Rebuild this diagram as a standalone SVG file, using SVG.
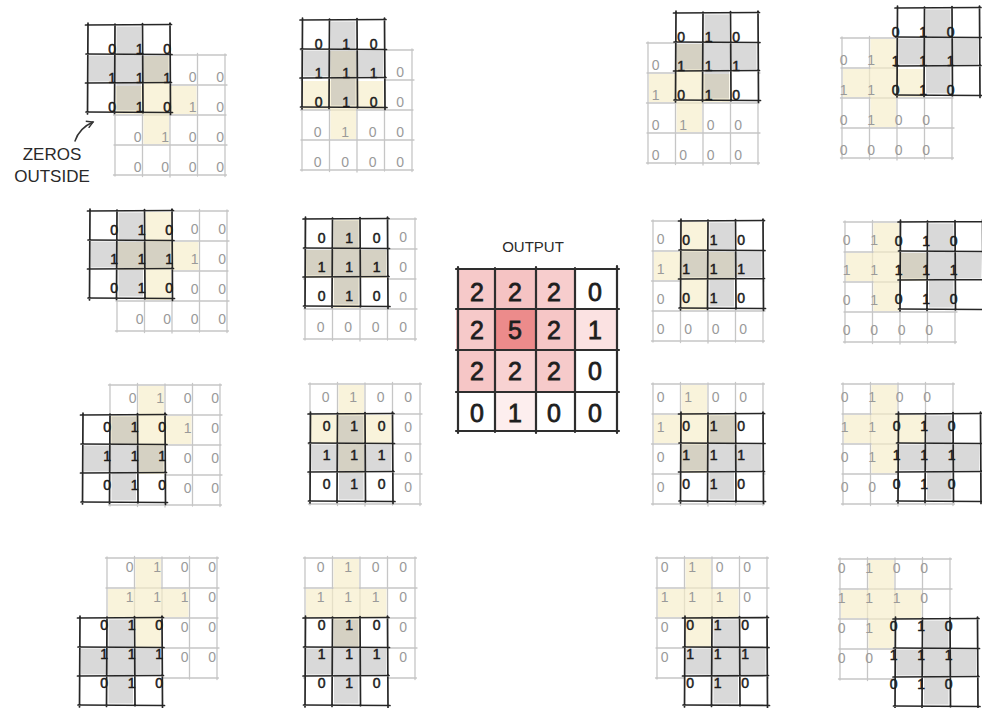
<svg xmlns="http://www.w3.org/2000/svg" width="982" height="708" viewBox="0 0 982 708" font-family="'Liberation Sans', Arial, sans-serif" text-anchor="middle">
<style>
.gl{stroke:#c6c6c6;stroke-width:1.3;fill:none;stroke-linecap:round}
.kl{stroke:#262626;stroke-width:1.7;fill:none;stroke-linecap:round}
.ol{stroke:#2e2e2e;stroke-width:2.2;fill:none;stroke-linecap:round}
.y{fill:#f6ecc8;fill-opacity:.65}
.k{fill:#9c9c9c;fill-opacity:.38}
text{font-family:'Liberation Sans',Arial,sans-serif;text-anchor:middle}
.kd{font-size:14px;fill:#1c1c1c;stroke:#1c1c1c;stroke-width:.5}
.gd{font-size:14px;fill:#9a9a9a}
.od{font-size:25px;fill:#1e1e1e;stroke:#1e1e1e;stroke-width:.8}
.lb{font-size:17px;fill:#2a2a2a}
.cn{stroke:#333;stroke-width:1.5;fill:none;stroke-linecap:round}
</style>
<defs>
<marker id="ah" viewBox="0 0 10 10" refX="8" refY="5" markerWidth="6" markerHeight="6" orient="auto"><path d="M1,1 L8,5 L1,9" fill="none" stroke="#333" stroke-width="1.6"/></marker>
<g id="grid" class="gl"><path d="M0,-1V121M27.5,-1.5V121.5M55,-1V122M82.5,-1.5V121M110,-1V121.5M-1.5,0H111.5M-1,30H112M-1.5,60H111M-1,90H112M-1.5,120H111.5"/></g>
<rect id="kbg" x="0" y="0" width="82.5" height="87" fill="#fff"/>
<path id="yel" class="y" d="M28.5,1H54V31H81.5V59H54V89H28.5V59H1V31H28.5Z"/>
<path id="kcross" class="k" d="M29,1.5H53.5V30.5H81V56.5H53.5V85.5H29V56.5H1.5V30.5H29Z"/>
<g id="klines" class="kl"><path d="M0.5,-2L0,89M27.5,-1L27,88.5M55,-1.5L55.5,88M82.5,-2L83,89.5M-2,0L84,-0.5M-1.5,29L84.5,29.5M-2,58L84,57.5M-1.5,87L85,87.5"/></g>
<g id="kdig" class="kd">
<text x="13.75" y="19.5">0</text><text x="41.25" y="19.5">1</text><text x="68.75" y="19.5">0</text>
<text x="13.75" y="48.5">1</text><text x="41.25" y="48.5">1</text><text x="68.75" y="48.5">1</text>
<text x="13.75" y="77.5">0</text><text x="41.25" y="77.5">1</text><text x="68.75" y="77.5">0</text>
</g>
<g id="r0"><text x="13.75" y="20">0</text><text x="41.25" y="20">1</text><text x="68.75" y="20">0</text><text x="96.25" y="20">0</text></g>
<g id="r1"><text x="13.75" y="50">1</text><text x="41.25" y="50">1</text><text x="68.75" y="50">1</text><text x="96.25" y="50">0</text></g>
<g id="r2"><text x="13.75" y="80">0</text><text x="41.25" y="80">1</text><text x="68.75" y="80">0</text><text x="96.25" y="80">0</text></g>
<g id="r3"><text x="13.75" y="110">0</text><text x="41.25" y="110">0</text><text x="68.75" y="110">0</text><text x="96.25" y="110">0</text></g>
</defs>
<rect width="982" height="708" fill="#fff"/>

<g id="panel-0-0" transform="translate(115,55)">
<use href="#grid"/><use href="#kbg" x="-27.5" y="-30"/><use href="#yel"/><use href="#kcross" x="-27.5" y="-30"/><use href="#klines" x="-27.5" y="-30"/><use href="#kdig" x="-16.5" y="-21"/>
<g class="gd" transform="translate(9,7)"><use href="#r2"/><use href="#r3"/><text x="68.75" y="20">0</text><text x="96.25" y="20">0</text><text x="68.75" y="50">1</text><text x="96.25" y="50">0</text></g>
</g>
<g id="panel-0-1" transform="translate(302,50)">
<use href="#grid"/><use href="#kbg" x="0" y="-30"/><use href="#yel"/><use href="#kcross" x="0" y="-30"/><use href="#klines" x="0" y="-30"/><use href="#kdig" x="3" y="-21"/>
<g class="gd" transform="translate(2,7)"><use href="#r2"/><use href="#r3"/><text x="96.25" y="20">0</text><text x="96.25" y="50">0</text></g>
</g>
<g id="panel-0-2" transform="translate(648,43)">
<use href="#grid"/><use href="#kbg" x="27.5" y="-30"/><use href="#yel"/><use href="#kcross" x="27.5" y="-30"/><use href="#klines" x="27.5" y="-30"/><use href="#kdig" x="19.5" y="-21"/>
<g class="gd" transform="translate(-6,7)"><use href="#r2"/><use href="#r3"/><text x="13.75" y="20">0</text><text x="13.75" y="50">1</text></g>
</g>
<g id="panel-0-3" transform="translate(842,38)">
<use href="#grid"/><use href="#kbg" x="55" y="-30"/><use href="#yel"/><use href="#kcross" x="55" y="-30"/><use href="#klines" x="55" y="-30"/><use href="#kdig" x="40" y="-21"/>
<g class="gd" transform="translate(-12,7)"><use href="#r2"/><use href="#r3"/><text x="13.75" y="20">0</text><text x="41.25" y="20">1</text><text x="13.75" y="50">1</text><text x="41.25" y="50">1</text></g>
</g>

<g id="panel-1-0" transform="translate(117,211)">
<use href="#grid"/><use href="#kbg" x="-27.5" y="0"/><use href="#yel"/><use href="#kcross" x="-27.5" y="0"/><use href="#klines" x="-27.5" y="0"/><use href="#kdig" x="-16.5" y="4"/>
<g class="gd" transform="translate(9,3)"><use href="#r3"/><text x="68.75" y="20">0</text><text x="96.25" y="20">0</text><text x="68.75" y="50">1</text><text x="96.25" y="50">0</text><text x="68.75" y="80">0</text><text x="96.25" y="80">0</text></g>
</g>
<g id="panel-1-1" transform="translate(305,219)">
<use href="#grid"/><use href="#kbg" x="0" y="0"/><use href="#yel"/><use href="#kcross" x="0" y="0"/><use href="#klines" x="0" y="0"/><use href="#kdig" x="3" y="4"/>
<g class="gd" transform="translate(2,3)"><use href="#r3"/><text x="96.25" y="20">0</text><text x="96.25" y="50">0</text><text x="96.25" y="80">0</text></g>
</g>
<g id="panel-1-2" transform="translate(653,221)">
<use href="#grid"/><use href="#kbg" x="27.5" y="0"/><use href="#yel"/><use href="#kcross" x="27.5" y="0"/><use href="#klines" x="27.5" y="0"/><use href="#kdig" x="19.5" y="4"/>
<g class="gd" transform="translate(-6,3)"><use href="#r3"/><text x="13.75" y="20">0</text><text x="13.75" y="50">1</text><text x="13.75" y="80">0</text></g>
</g>
<g id="panel-1-3" transform="translate(845,222)">
<use href="#grid"/><use href="#kbg" x="55" y="0"/><use href="#yel"/><use href="#kcross" x="55" y="0"/><use href="#klines" x="55" y="0"/><use href="#kdig" x="40" y="4"/>
<g class="gd" transform="translate(-12,3)"><use href="#r3"/><text x="13.75" y="20">0</text><text x="41.25" y="20">1</text><text x="13.75" y="50">1</text><text x="41.25" y="50">1</text><text x="13.75" y="80">0</text><text x="41.25" y="80">1</text></g>
</g>

<g id="panel-2-0" transform="translate(110,385)">
<use href="#grid"/><use href="#kbg" x="-27.5" y="30"/><use href="#yel"/><use href="#kcross" x="-27.5" y="30"/><use href="#klines" x="-27.5" y="30"/><use href="#kdig" x="-16.5" y="27"/>
<g class="gd" transform="translate(9,-2)"><use href="#r0"/><text x="68.75" y="50">1</text><text x="96.25" y="50">0</text><text x="68.75" y="80">0</text><text x="96.25" y="80">0</text><text x="68.75" y="110">0</text><text x="96.25" y="110">0</text></g>
</g>
<g id="panel-2-1" transform="translate(310,384)">
<use href="#grid"/><use href="#kbg" x="0" y="30"/><use href="#yel"/><use href="#kcross" x="0" y="30"/><use href="#klines" x="0" y="30"/><use href="#kdig" x="3" y="27"/>
<g class="gd" transform="translate(2,-2)"><use href="#r0"/><text x="96.25" y="50">0</text><text x="96.25" y="80">0</text><text x="96.25" y="110">0</text></g>
</g>
<g id="panel-2-2" transform="translate(653,384)">
<use href="#grid"/><use href="#kbg" x="27.5" y="30"/><use href="#yel"/><use href="#kcross" x="27.5" y="30"/><use href="#klines" x="27.5" y="30"/><use href="#kdig" x="19.5" y="27"/>
<g class="gd" transform="translate(-6,-2)"><use href="#r0"/><text x="13.75" y="50">1</text><text x="13.75" y="80">0</text><text x="13.75" y="110">0</text></g>
</g>
<g id="panel-2-3" transform="translate(843,384)">
<use href="#grid"/><use href="#kbg" x="55" y="30"/><use href="#yel"/><use href="#kcross" x="55" y="30"/><use href="#klines" x="55" y="30"/><use href="#kdig" x="40" y="27"/>
<g class="gd" transform="translate(-12,-2)"><use href="#r0"/><text x="13.75" y="50">1</text><text x="41.25" y="50">1</text><text x="13.75" y="80">0</text><text x="41.25" y="80">1</text><text x="13.75" y="110">0</text><text x="41.25" y="110">0</text></g>
</g>

<g id="panel-3-0" transform="translate(107,558)">
<use href="#grid"/><use href="#kbg" x="-27.5" y="60"/><use href="#yel"/><use href="#kcross" x="-27.5" y="60"/><use href="#klines" x="-27.5" y="60"/><use href="#kdig" x="-16.5" y="52"/>
<g class="gd" transform="translate(9,-6)"><use href="#r0"/><use href="#r1"/><text x="68.75" y="80">0</text><text x="96.25" y="80">0</text><text x="68.75" y="110">0</text><text x="96.25" y="110">0</text></g>
</g>
<g id="panel-3-1" transform="translate(305,558)">
<use href="#grid"/><use href="#kbg" x="0" y="60"/><use href="#yel"/><use href="#kcross" x="0" y="60"/><use href="#klines" x="0" y="60"/><use href="#kdig" x="3" y="52"/>
<g class="gd" transform="translate(2,-6)"><use href="#r0"/><use href="#r1"/><text x="96.25" y="80">0</text><text x="96.25" y="110">0</text></g>
</g>
<g id="panel-3-2" transform="translate(657,558)">
<use href="#grid"/><use href="#kbg" x="27.5" y="60"/><use href="#yel"/><use href="#kcross" x="27.5" y="60"/><use href="#klines" x="27.5" y="60"/><use href="#kdig" x="19.5" y="52"/>
<g class="gd" transform="translate(-6,-6)"><use href="#r0"/><use href="#r1"/><text x="13.75" y="80">0</text><text x="13.75" y="110">0</text></g>
</g>
<g id="panel-3-3" transform="translate(840,559)">
<use href="#grid"/><use href="#kbg" x="55" y="60"/><use href="#yel"/><use href="#kcross" x="55" y="60"/><use href="#klines" x="55" y="60"/><use href="#kdig" x="40" y="52"/>
<g class="gd" transform="translate(-12,-6)"><use href="#r0"/><use href="#r1"/><text x="13.75" y="80">0</text><text x="41.25" y="80">1</text><text x="13.75" y="110">0</text><text x="41.25" y="110">0</text></g>
</g>

<g id="output">
<text class="lb" x="533" y="252" style="font-size:15px">OUTPUT</text>
<rect x="459" y="270" width="35" height="38" fill="#f6c9c9"/>
<rect x="496" y="270" width="39" height="38" fill="#f5c3c3"/>
<rect x="537" y="270" width="37" height="38" fill="#f7cdcd"/>
<rect x="456" y="310" width="38" height="39" fill="#f6c9c9"/>
<rect x="496" y="310" width="39" height="39" fill="#ec8b8b"/>
<rect x="537" y="310" width="37" height="39" fill="#f6c6c6"/>
<rect x="576" y="310" width="40" height="39" fill="#fbe2e2"/>
<rect x="459" y="351" width="35" height="40" fill="#f6c6c6"/>
<rect x="496" y="351" width="39" height="40" fill="#f8d2d2"/>
<rect x="537" y="351" width="37" height="40" fill="#f6caca"/>
<rect x="496" y="393" width="39" height="37" fill="#fdeeee"/>
<path class="ol" d="M458,267V433M495,268V432M536,267V433M575,268V432M617,266V433M456,269H619M456,309H619M456,350H619M456,392H619M456,431H619"/>
<g class="od">
<text x="477" y="301">2</text><text x="515" y="301">2</text><text x="554" y="301">2</text><text x="595" y="301">0</text>
<text x="477" y="339">2</text><text x="515" y="339">5</text><text x="554" y="339">2</text><text x="595" y="339">1</text>
<text x="477" y="380">2</text><text x="515" y="380">2</text><text x="554" y="380">2</text><text x="595" y="380">0</text>
<text x="477" y="422">0</text><text x="515" y="422">1</text><text x="554" y="422">0</text><text x="595" y="422">0</text>
</g>
</g>

<g id="label-zeros">
<text class="lb" x="52" y="160">ZEROS</text>
<text class="lb" x="52" y="182">OUTSIDE</text>
</g>

<g id="connectors">
<path class="cn" d="M75,141 C78,132 84,126 93,122" marker-end="url(#ah)"/>
</g>
</svg>
